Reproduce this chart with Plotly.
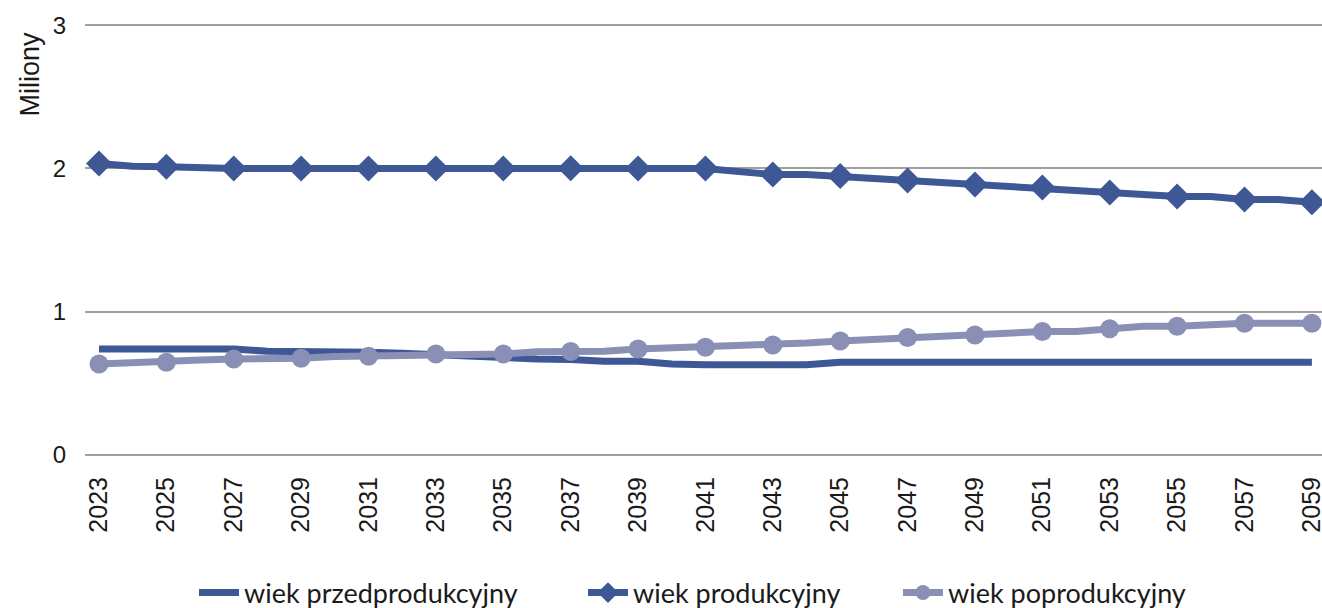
import plotly.graph_objects as go

years = list(range(2023, 2060))

przed = [0.738, 0.738, 0.738, 0.738, 0.738, 0.722, 0.722, 0.717, 0.715, 0.708,
         0.695, 0.682, 0.680, 0.668, 0.665, 0.652, 0.652, 0.633, 0.628, 0.628,
         0.628, 0.628, 0.645, 0.645, 0.645, 0.645, 0.645, 0.645, 0.645, 0.645,
         0.645, 0.645, 0.645, 0.645, 0.645, 0.645, 0.645]

prod = [2.035, 2.016, 2.012, 2.000, 2.000, 2.000, 2.000, 2.000, 2.000, 2.000,
        2.000, 2.000, 2.000, 2.000, 2.002, 2.000, 2.000, 2.000, 2.000, 1.978,
        1.958, 1.958, 1.948, 1.932, 1.916, 1.902, 1.888, 1.878, 1.867, 1.850,
        1.832, 1.818, 1.804, 1.804, 1.783, 1.783, 1.764]

popr = [0.633, 0.645, 0.645, 0.661, 0.668, 0.668, 0.673, 0.685, 0.687, 0.690,
        0.703, 0.703, 0.703, 0.718, 0.720, 0.722, 0.738, 0.745, 0.750, 0.758,
        0.766, 0.780, 0.794, 0.806, 0.818, 0.827, 0.836, 0.848, 0.860, 0.860,
        0.879, 0.897, 0.897, 0.910, 0.918, 0.918, 0.918]

tick_years = list(range(2023, 2060, 2))
y_ticks = [0, 1, 2, 3]
series_names = ["wiek przedprodukcyjny", "wiek produkcyjny", "wiek poprodukcyjny"]
y_title = "Miliony"

DARK = "#3D5895"
LIGHT = "#8A90B5"
LW = 7
TXT = "#1a1a1a"

fig = go.Figure()

def marker_points(vals):
    xs = [y for y in years if (y - 2023) % 2 == 0]
    ys = [v for y, v in zip(years, vals) if (y - 2023) % 2 == 0]
    return xs, ys

# przedprodukcyjny - line only
fig.add_trace(go.Scatter(x=years, y=przed, mode="lines", name=series_names[0],
                         legend="legend", line=dict(color=DARK, width=LW)))

# produkcyjny - line with diamond markers on odd years
fig.add_trace(go.Scatter(x=years, y=prod, mode="lines", showlegend=False,
                         line=dict(color=DARK, width=LW)))
mx, my = marker_points(prod)
fig.add_trace(go.Scatter(x=mx, y=my, mode="markers", showlegend=False,
                         marker=dict(symbol="diamond", size=20, color=DARK)))
fig.add_trace(go.Scatter(x=[None], y=[None], mode="lines+markers", name=series_names[1],
                         legend="legend2", line=dict(color=DARK, width=LW),
                         marker=dict(symbol="diamond", size=16, color=DARK)))

# poprodukcyjny - line with circle markers on odd years
fig.add_trace(go.Scatter(x=years, y=popr, mode="lines", showlegend=False,
                         line=dict(color=LIGHT, width=LW)))
mx, my = marker_points(popr)
fig.add_trace(go.Scatter(x=mx, y=my, mode="markers", showlegend=False,
                         marker=dict(symbol="circle", size=19, color=LIGHT)))
fig.add_trace(go.Scatter(x=[None], y=[None], mode="lines+markers", name=series_names[2],
                         legend="legend3", line=dict(color=LIGHT, width=LW),
                         marker=dict(symbol="circle", size=15, color=LIGHT)))

W, H = 1322, 608
PL, PT, PB = 85, 24, 152
PW = W - PL
PH = H - PT - PB

def px_x(px):
    return (px - PL) / PW

def px_y(py):
    return (H - PB - py) / PH

def cont_y(py):
    return (H - py) / H

legfont = dict(family="Lato", size=27, color=TXT)
legcommon = dict(orientation="h", yanchor="middle", xanchor="left", yref="container",
                 font=legfont, itemwidth=40, bgcolor="rgba(0,0,0,0)")

fig.update_layout(
    width=W, height=H,
    margin=dict(l=PL, r=0, t=PT, b=PB),
    paper_bgcolor="white", plot_bgcolor="white",
    showlegend=True,
    legend=dict(x=px_x(194), y=cont_y(593), **legcommon),
    legend2=dict(x=px_x(583), y=cont_y(593), **legcommon),
    legend3=dict(x=px_x(898), y=cont_y(593), **legcommon),
    xaxis=dict(range=[2022.585, 2059.3], tickmode="array", tickvals=tick_years,
               ticktext=[str(y) for y in tick_years], tickangle=-90,
               showgrid=False, zeroline=False, showline=False, automargin=False,
               ticklabeloverflow="allow", ticklabelstandoff=15,
               tickfont=dict(family="Liberation Sans", size=25, color=TXT),
               ticks=""),
    yaxis=dict(range=[-0.01, 3.01], tickmode="array", tickvals=y_ticks,
               ticktext=[str(v) for v in y_ticks],
               showgrid=True, gridcolor="#A0A0A0", gridwidth=2,
               zeroline=False, showline=False, automargin=False,
               tickfont=dict(family="Liberation Sans", size=24, color=TXT),
               ticklabelstandoff=18),
    annotations=[dict(text=y_title, textangle=-90, xref="paper", yref="paper",
                      x=px_x(13), y=px_y(30), xanchor="left", yanchor="top",
                      showarrow=False,
                      font=dict(family="Liberation Sans", size=27, color=TXT))],
)

fig.write_html(
    "out.html",
    config={"displayModeBar": False},
    post_script="document.body.style.margin='0px';document.body.style.overflow='hidden';",
)
